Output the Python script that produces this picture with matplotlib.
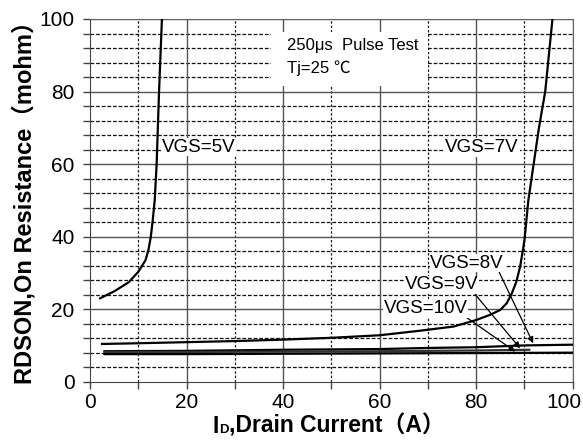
import matplotlib
matplotlib.use("Agg")
import matplotlib.pyplot as plt
from matplotlib.transforms import ScaledTranslation

plt.rcParams['font.family'] = ['Liberation Sans', 'Noto Sans CJK SC', 'DejaVu Sans']

# Data
vgs5_x = [2.1, 5, 8, 10, 11.5, 12.1, 12.6, 13.0, 13.4, 13.8, 14.3, 14.9]
vgs5_y = [23, 24.9, 27.4, 30.3, 33.5, 36.3, 40, 44.6, 50, 60, 80, 100]
vgs7_x = [2.5, 10, 20, 30, 40, 50, 60, 68, 75.3, 80, 83, 85, 86.3, 87.4, 88.3, 89.1, 90.0, 90.8, 91.9, 93.0, 94.3, 95.8]
vgs7_y = [10.4, 10.6, 10.9, 11.2, 11.6, 12.1, 12.8, 14, 15.2, 17, 18.5, 19.8, 21.6, 24.4, 27.5, 31.7, 39, 50, 60, 70, 80, 100]
vgs8_x = [3, 20, 40, 60, 70, 80, 90, 100]
vgs8_y = [8.4, 8.5, 8.8, 9.0, 9.3, 9.5, 10.0, 10.2]
vgs9_x = [3, 20, 40, 60, 80, 91]
vgs9_y = [8.2, 8.2, 8.3, 8.4, 8.6, 8.8]
vgs10_x = [3, 20, 40, 60, 80, 100]
vgs10_y = [7.6, 7.6, 7.7, 7.8, 7.9, 8.0]

x_ticks = [0, 20, 40, 60, 80, 100]
y_ticks = [0, 20, 40, 60, 80, 100]

fig = plt.figure(figsize=(5.83, 4.46), dpi=100)
ax = fig.add_axes([0.1544, 0.1442, 0.828, 0.8132])
ax.set_xlim(0, 100)
ax.set_ylim(0, 100)

# grid
for v in range(10, 100, 20):
    ax.axvline(v, color='#222222', lw=0.9, ls=(0, (2, 1.5)), zorder=1)
for v in range(0, 101, 4):
    if v % 20:
        ax.axhline(v, color='#111111', lw=0.9, ls=(0, (3, 1.5)), zorder=1)
for v in range(20, 101, 20):
    ax.axvline(v, color='#555555', lw=1.0, zorder=1)
    ax.axhline(v, color='#555555', lw=1.0, zorder=1)

ax.set_xticks(x_ticks)
ax.set_xticks(range(10, 100, 20), minor=True)
ax.set_yticks(y_ticks)
ax.set_yticks([v for v in range(0, 101, 4) if v % 20], minor=True)
ax.tick_params(which='both', direction='out', length=5, width=1, color='#444444', labelsize=15)
ax.tick_params(axis='y', which='major', pad=6)
ax.tick_params(axis='x', which='major', pad=3)
for s in ['left', 'bottom']:
    ax.spines[s].set_color('#444444')
for s in ['top', 'right']:
    ax.spines[s].set_color('#666666')

# the last x tick label sits slightly left of its tick in the reference
lbl = ax.get_xticklabels()[-1]
lbl.set_transform(lbl.get_transform() + ScaledTranslation(-9 / 100, 0, fig.dpi_scale_trans))

lw = 1.6
ax.plot(vgs5_x, vgs5_y, color='black', lw=lw, zorder=3)
ax.plot(vgs7_x, vgs7_y, color='black', lw=lw, zorder=3)
ax.plot(vgs8_x, vgs8_y, color='black', lw=lw, zorder=3)
ax.plot(vgs9_x, vgs9_y, color='#333333', lw=lw, zorder=3)
ax.plot(vgs10_x, vgs10_y, color='black', lw=lw, zorder=3)

fs = 13.5
bbox = dict(facecolor='white', edgecolor='none', pad=0.5)
ax.text(14.8, 64.7, 'VGS=5V', fontsize=fs, va='center', ha='left', bbox=bbox, zorder=4)
ax.text(73.6, 64.6, 'VGS=7V', fontsize=fs, va='center', ha='left', bbox=bbox, zorder=4)

# condition box
ax.add_patch(plt.Rectangle((37.5, 81.5), 32.5, 15, facecolor='white', edgecolor='none', zorder=2))
ax.text(40.8, 92.8, '250μs  Pulse Test', fontsize=12, va='center', ha='left', zorder=4)
ax.text(40.8, 86.4, 'Tj=25 ℃', fontsize=12, va='center', ha='left', zorder=4)

arrow = dict(arrowstyle='-|>', color='black', lw=0.9, mutation_scale=9, shrinkA=0, shrinkB=0)
ax.annotate('VGS=8V', xy=(91.8, 10.6), xytext=(70.5, 32.7), fontsize=fs, va='center', ha='left',
            bbox=bbox, arrowprops=dict(arrow, relpos=(0.92, 0.1)), zorder=5)
ax.annotate('VGS=9V', xy=(89.1, 9.2), xytext=(65.3, 26.7), fontsize=fs, va='center', ha='left',
            bbox=bbox, arrowprops=dict(arrow, relpos=(0.92, 0.1)), zorder=5)
ax.annotate('VGS=10V', xy=(88.1, 8.3), xytext=(60.8, 20.2), fontsize=fs, va='center', ha='left',
            bbox=bbox, arrowprops=dict(arrow, relpos=(0.95, 0.1)), zorder=5)

# x label built from pieces so the full-width brackets can use a CJK font
base_y = 1 - 433 / 446
t1 = fig.text(212 / 583, base_y, 'I', fontsize=16.5, fontweight='bold', va='baseline', ha='left')
t2 = fig.text(0, 0, 'D', fontsize=9.5, fontweight='bold', va='baseline', ha='left')
t3 = fig.text(0, 0, ',Drain Current（A）', fontsize=16.5, fontweight='bold', va='baseline', ha='left')
fig.canvas.draw()
r = fig.canvas.get_renderer()
e1 = t1.get_window_extent(r)
t2.set_position(((e1.x1 + 0.5) / fig.bbox.width, base_y))
fig.canvas.draw()
e2 = t2.get_window_extent(r)
t3.set_position(((e2.x1 + 0.5) / fig.bbox.width, base_y))

fig.text(25 / 583, 1 - 197 / 446, 'RDSON,On Resistance（mohm）', fontsize=17, fontweight='bold',
         rotation=90, va='center', ha='center')

fig.savefig('out.png', dpi=100)
